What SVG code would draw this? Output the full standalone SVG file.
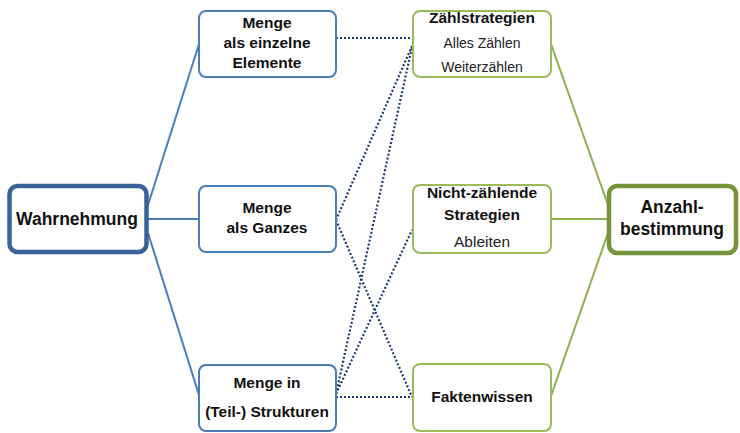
<svg xmlns="http://www.w3.org/2000/svg" width="740" height="433" viewBox="0 0 740 433">
<style>
.bg{fill:#fff}
.bl{fill:#fff;stroke:#4A7EBB;stroke-width:2}
.gr{fill:#fff;stroke:#9BBB59;stroke-width:2}
.blT{fill:#fff;stroke:#3A6198;stroke-width:4.5}
.grT{fill:#fff;stroke:#77933C;stroke-width:4.5}
.lb{stroke:#4A7EBB;stroke-width:2;fill:none}
.lg{stroke:#8DB04E;stroke-width:2;fill:none}
.dot{stroke:#1F3A6E;stroke-width:2.2;stroke-dasharray:2 2;fill:none}
text{font-family:"Liberation Sans",Arial,sans-serif;fill:#111;text-anchor:middle}
.b{font-weight:bold;font-size:15.5px}
.r{font-size:14px;fill:#222}
.r2{font-size:15.5px;fill:#222}
.big{font-weight:bold;font-size:17.5px}
</style>
<rect class="bg" width="740" height="433"/>
<g id="connectors">
<line class="lb" x1="148" y1="205" x2="199" y2="44"/>
<line class="lb" x1="148" y1="219" x2="199" y2="219"/>
<line class="lb" x1="148" y1="233" x2="199" y2="395"/>
<line class="lg" x1="551" y1="44" x2="608" y2="205"/>
<line class="lg" x1="551" y1="219" x2="608" y2="219"/>
<line class="lg" x1="551" y1="396" x2="608" y2="233"/>
<line class="dot" x1="336" y1="38" x2="412" y2="38"/>
<line class="dot" x1="336" y1="220" x2="412" y2="46"/>
<line class="dot" x1="336" y1="220" x2="412" y2="397"/>
<line class="dot" x1="336" y1="394" x2="412" y2="47"/>
<line class="dot" x1="336" y1="394" x2="412" y2="230"/>
<line class="dot" x1="336" y1="397" x2="412" y2="397"/>
</g>
<g id="wahrnehmung">
<rect class="blT" x="9.5" y="186" width="137" height="66" rx="8"/>
<text class="big" x="77" y="225">Wahrnehmung</text>
</g>
<g id="menge-einzeln">
<rect class="bl" x="199" y="11" width="137" height="66" rx="7"/>
<text class="b" x="267" y="28">Menge</text>
<text class="b" x="267" y="48">als einzelne</text>
<text class="b" x="267" y="68">Elemente</text>
</g>
<g id="menge-ganzes">
<rect class="bl" x="199" y="186" width="137" height="66" rx="7"/>
<text class="b" x="267" y="213">Menge</text>
<text class="b" x="267" y="233">als Ganzes</text>
</g>
<g id="menge-strukturen">
<rect class="bl" x="199" y="365" width="137" height="66" rx="7"/>
<text class="b" x="267" y="388">Menge in</text>
<text class="b" x="267" y="417">(Teil-) Strukturen</text>
</g>
<g id="zaehlstrategien">
<rect class="gr" x="413" y="11" width="138" height="66" rx="7"/>
<text class="b" x="482" y="23">Zählstrategien</text>
<text class="r" x="482" y="48">Alles Zählen</text>
<text class="r" x="482" y="72">Weiterzählen</text>
</g>
<g id="nicht-zaehlende">
<rect class="gr" x="413" y="185" width="138" height="68" rx="7"/>
<text class="b" x="482" y="198">Nicht-zählende</text>
<text class="b" x="482" y="220">Strategien</text>
<text class="r2" x="482" y="247">Ableiten</text>
</g>
<g id="faktenwissen">
<rect class="gr" x="413" y="364" width="138" height="67" rx="7"/>
<text class="b" x="482" y="402">Faktenwissen</text>
</g>
<g id="anzahlbestimmung">
<rect class="grT" x="609" y="186" width="127" height="67" rx="8"/>
<text class="big" x="672" y="213">Anzahl-</text>
<text class="big" x="672" y="235">bestimmung</text>
</g>
</svg>
